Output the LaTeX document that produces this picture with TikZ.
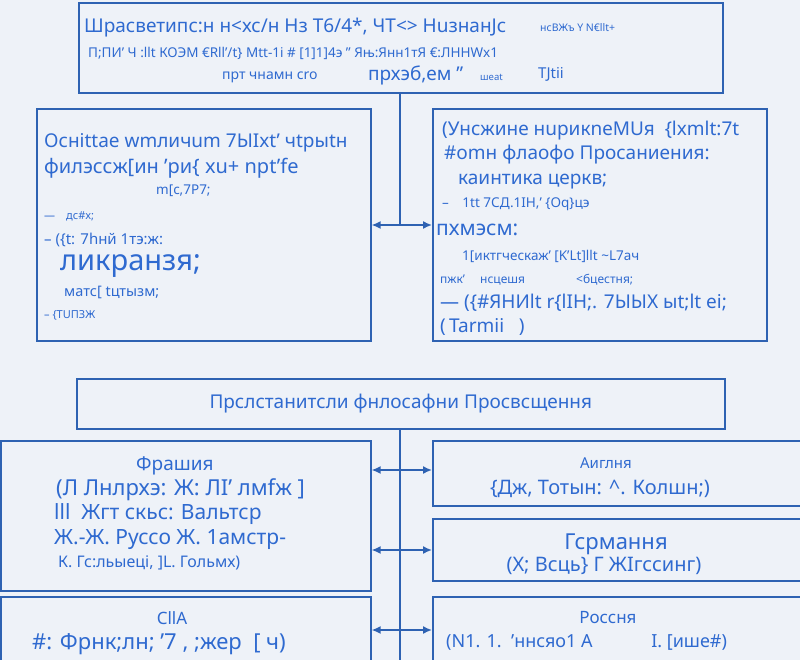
\documentclass[tikz,border=0pt]{standalone}
\usepackage{fontspec}
\setmainfont{Noto Sans}
\usetikzlibrary{arrows.meta}
\newcommand{\fz}[1]{\fontsize{#1}{#1}\selectfont}
\begin{document}
\begin{tikzpicture}[x=1pt,y=-1pt,
  box/.style={draw=bx,line width=1.6pt,fill=bg},
  t/.style={text=tx,anchor=west,inner sep=0pt,font=\fz{19}},
  s/.style={text=tx,anchor=west,inner sep=0pt,font=\fz{13.5}},
  ln/.style={draw=bx,line width=1.6pt},
  arr/.style={draw=bx,line width=1.6pt,{Latex[length=9pt,width=8pt]}-{Latex[length=9pt,width=8pt]}}]
\definecolor{bg}{HTML}{EEF2F8}
\definecolor{bx}{HTML}{2E62B2}
\definecolor{tx}{HTML}{2F6AD0}
\fill[bg] (0,0) rectangle (800,660);
\useasboundingbox (0,0) rectangle (800,660);
% top
\node[box,minimum width=644,minimum height=90,anchor=north west] (top) at (78,2) {};
\node[t] at (84,28) {Шрасветипс:н н<хс/н Нз Т6/4*, ЧТ<> НuзнанJс};
\node[s,font=\fz{10.5}] at (540,28) {нсВЖъ Y N€llt+};
\node[s] at (88,53) {П;ПИ' Ч :llt КОЭМ €Rll'/t\} Mtt-1i \# [1]1]4э " Яњ:Янн1тЯ €:ЛННWx1};
\node[s,font=\fz{14}] at (222,77) {прт чнамн cro};
\node[t] at (368,75) {прхэб,ем "};
\node[s,font=\fz{9.5}] at (480,77) {шeat};
\node[s,font=\fz{15}] at (538,74) {TJtii};
% mid boxes
\node[box,minimum width=334,minimum height=232,anchor=north west] (L) at (36,108) {};
\node[box,minimum width=334,minimum height=232,anchor=north west] (R) at (432,108) {};
\node[t] at (44,143) {Оснittae wmличum 7ЫIxt' чtpыtн};
\node[t,font=\fz{20}] at (44,168) {филэссж[ин 'ри\{ xu+ npt'fe};
\node[s] at (156,191) {m[c,7P7;};
\node[s,font=\fz{11}] at (44,216) {—\quad дс\#x;};
\node[s,font=\fz{15}] at (44,240) {-- (\{t: 7hнй 1тэ:ж:};
\node[t,font=\fz{29}] at (60,266) {ликранзя;};
\node[s,font=\fz{14.5}] at (64,292) {матс[ tцтызм;};
\node[s,font=\fz{11}] at (44,315) {-- \{TUПЗЖ};
\node[t] at (442,131) {(Унсжине нuрикnеМUя \ \{lxmlt:7t};
\node[t] at (444,155) {\#omн флаофо Просаниения:};
\node[t] at (458,182) {каинтика церкв;};
\node[s] at (442,204) {--\quad 1tt 7СД.1IН,' \{Oq\}цэ};
\node[t,font=\fz{21}] at (436,230) {пхмэсм:};
\node[s] at (462,256) {1[иктгческаж' [K'Lt]llt \textasciitilde L7ач};
\node[s,font=\fz{12}] at (440,280) {пжк' \quad нсцешя \qquad\qquad <бцестня;};
\node[t] at (440,303) {— (\{\#ЯНИlt r\{lIH;. 7ЫЫХ ыt;lt ei;};
\node[t] at (440,327) {(\,Tarmii \ \ )};
% top connectors
\coordinate (j1) at (400,225);
\draw[ln] (400,92) -- (j1);
\draw[arr] (L.east|-j1) -- (j1) -- (R.west|-j1);
% banner
\node[box,minimum width=648,minimum height=50,anchor=north west] (ban) at (76,378) {};
\node[text=tx,font=\fz{19}] at (ban.center) {Прслстанитсли фнлосафни Просвсщення};
% bottom boxes
\node[box,minimum width=370,minimum height=150,anchor=north west] (F) at (0,440) {};
\node[box,minimum width=368,minimum height=65,anchor=north west] (A) at (432,440) {};
\node[box,minimum width=368,minimum height=62,anchor=north west] (G) at (432,518) {};
\node[box,minimum width=370,minimum height=64,anchor=north west] (U) at (0,596) {};
\node[box,minimum width=368,minimum height=64,anchor=north west] (Ru) at (432,596) {};
\node[t] at (136,466) {Фрашия};
\node[t,font=\fz{22}] at (56,490) {(Л Лнлрхэ: Ж: ЛI' лмfж ]};
\node[t,font=\fz{21}] at (54,514) {lll\ \ Жгт скьс: Вальтср};
\node[t,font=\fz{21}] at (54,540) {Ж.-Ж. Руссо Ж. 1амстр-};
\node[t,font=\fz{16}] at (58,563) {К. Гс:льыецi, ]L. Гольмх)};
\node[text=tx,font=\fz{15}] at (606,463) {Аиглня};
\node[text=tx,font=\fz{20}] at (600,489) {\{Дж, Тотын: \^{}. Колшн;)};
\node[text=tx,font=\fz{22}] at (616,544) {Гсрмання};
\node[text=tx,font=\fz{20}] at (604,566) {(Х; Всць\} Г ЖIгссинг)};
\node[text=tx,font=\fz{17}] at (172,618) {CllA};
\node[t,font=\fz{22}] at (32,644) {\#: Фрнк;лн; '7 , ;жер\ \ [ ч)};
\node[text=tx,font=\fz{17}] at (608,618) {Россня};
\node[t,font=\fz{18}] at (446,642) {(N1. 1.\ \ 'ннсяо1 А \qquad\quad I. [ише\#)};
% bottom connectors
\coordinate (b1) at (400,470);
\coordinate (b2) at (400,550);
\coordinate (b3) at (400,630);
\draw[ln] (ban.south-|b1) -- (400,660);
\draw[arr] (F.east|-b1) -- (b1) -- (A.west|-b1);
\draw[arr] (F.east|-b2) -- (b2) -- (G.west|-b2);
\draw[arr] (U.east|-b3) -- (b3) -- (Ru.west|-b3);
\end{tikzpicture}
\end{document}
